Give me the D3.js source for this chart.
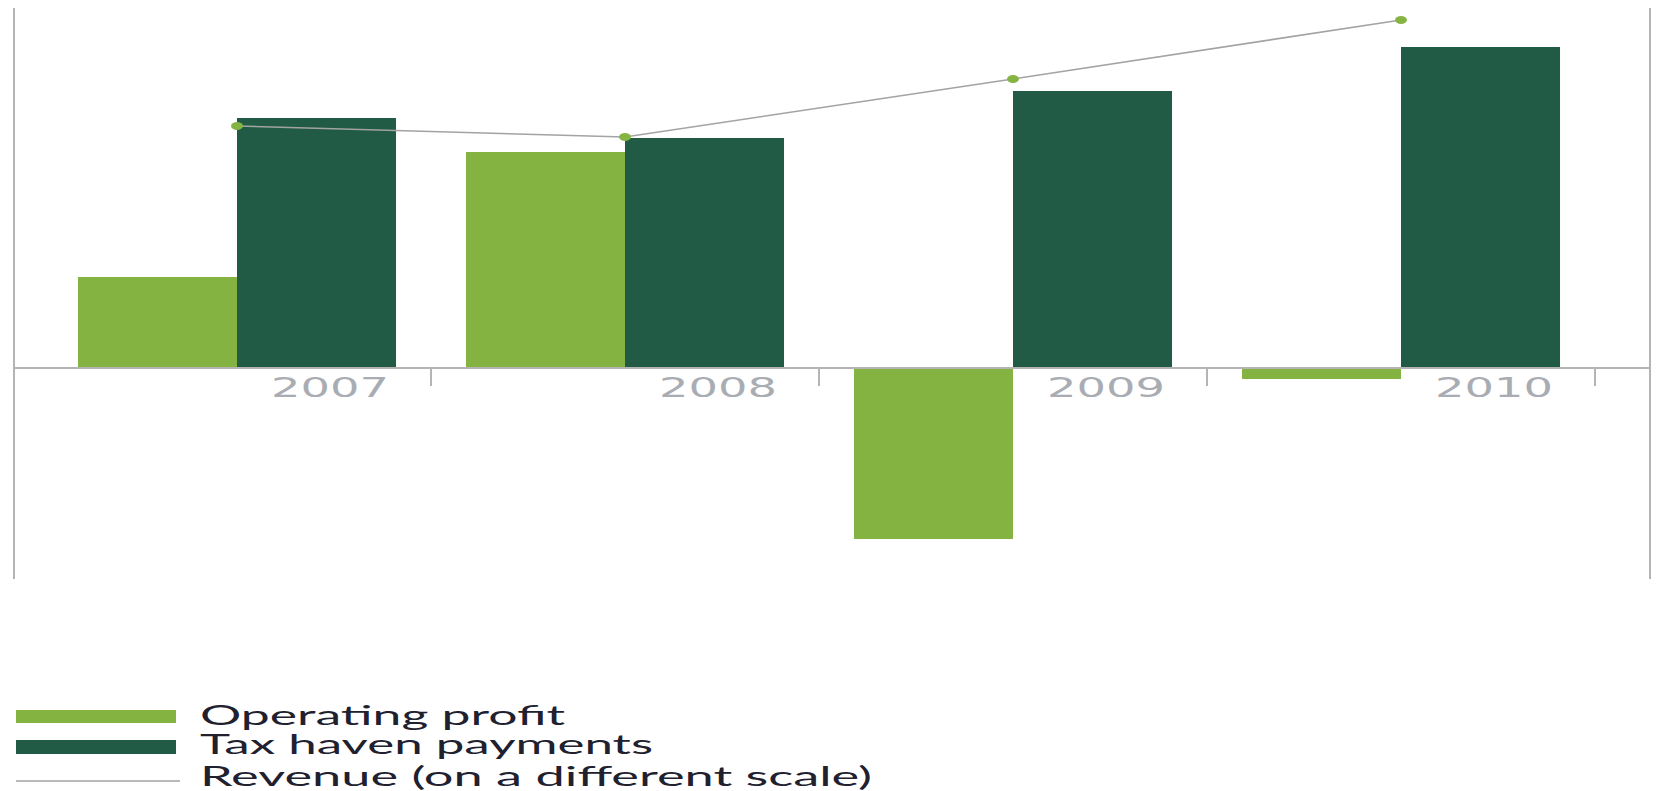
<!DOCTYPE html>
<html>
<head>
<meta charset="utf-8">
<script src="https://cdn.jsdelivr.net/npm/d3@7"></script>
<style>
  html, body { margin: 0; padding: 0; background: #fff; }
  svg { display: block; }
</style>
</head>
<body>
<div id="chart"></div>
<script>
    "use strict";

    // Categories and series (units arbitrary, revenue on its own scale).
    var years = ["2007", "2008", "2009", "2010"];
    var series = ["Operating profit", "Tax haven payments"];
    var operatingProfit = [9.1, 21.6, -17.1, -1.1];
    var taxHavenPayments = [25.0, 23.0, 27.7, 32.1];
    var revenue = [2.42, 2.31, 2.89, 3.48];
    var legendLabels = ["Operating profit", "Tax haven payments", "Revenue (on a different scale)"];

    var width = 1656, height = 791;
    var colors = { "Operating profit": "#85b342", "Tax haven payments": "#215a45" };
    var axisColor = "#b4b4b4";

    var svg = d3.select("#chart").append("svg")
        .attr("width", width)
        .attr("height", height);

    // Scales.
    var x = d3.scaleBand().domain(years).range([43, 1595]).padding(0);
    var x1 = d3.scaleBand().domain(series).range([0, x.bandwidth()]).paddingInner(0).paddingOuter(0.22);
    var y = d3.scaleLinear().domain([-21.1, 36.0]).range([579, 8]);
    var yRev = d3.scaleLinear().domain([0, 3.6]).range([y(0), 8]);

    var rows = years.map(function (yr, i) {
        return { year: yr, values: [
            { key: series[0], value: operatingProfit[i] },
            { key: series[1], value: taxHavenPayments[i] }
        ] };
    });

    // Side frame lines.
    svg.append("line")
        .attr("x1", 14).attr("x2", 14)
        .attr("y1", y.range()[1]).attr("y2", y.range()[0])
        .attr("stroke", axisColor).attr("stroke-width", 2);
    svg.append("line")
        .attr("x1", 1650).attr("x2", 1650)
        .attr("y1", y.range()[1]).attr("y2", y.range()[0])
        .attr("stroke", axisColor).attr("stroke-width", 2);

    // Bars.
    var groups = svg.append("g").attr("class", "bars")
        .selectAll("g")
        .data(rows)
        .enter().append("g")
        .attr("transform", function (d) { return "translate(" + x(d.year) + ",0)"; });

    groups.selectAll("rect")
        .data(function (d) { return d.values; })
        .enter().append("rect")
        .attr("x", function (d) { return x1(d.key); })
        .attr("width", x1.bandwidth())
        .attr("y", function (d) { return y(Math.max(0, d.value)); })
        .attr("height", function (d) { return Math.abs(y(d.value) - y(0)); })
        .attr("fill", function (d) { return colors[d.key]; });

    // Zero line with ticks between years.
    svg.append("line")
        .attr("x1", 14).attr("x2", 1650)
        .attr("y1", y(0)).attr("y2", y(0))
        .attr("stroke", axisColor).attr("stroke-width", 2);

    svg.append("g").selectAll("line")
        .data(years)
        .enter().append("line")
        .attr("x1", function (d) { return x(d) + x.bandwidth(); })
        .attr("x2", function (d) { return x(d) + x.bandwidth(); })
        .attr("y1", y(0)).attr("y2", y(0) + 18)
        .attr("stroke", axisColor).attr("stroke-width", 2);

    // Year labels.
    svg.append("g").selectAll("text")
        .data(years)
        .enter().append("text")
        .attr("x", function (d) { return x(d) + x.bandwidth() * 0.74; })
        .attr("y", y(0) + 29)
        .attr("text-anchor", "middle")
        .attr("font-family", "DejaVu Sans, sans-serif")
        .attr("font-size", 27)
        .attr("textLength", 118)
        .attr("lengthAdjust", "spacingAndGlyphs")
        .attr("fill", "#a9adb3")
        .text(function (d) { return d; });

    // Revenue line.
    var line = d3.line()
        .x(function (d, i) { return x(years[i]) + x.bandwidth() / 2; })
        .y(function (d) { return yRev(d); });

    svg.append("path")
        .datum(revenue)
        .attr("d", line)
        .attr("fill", "none")
        .attr("stroke", "#a3a3a3")
        .attr("stroke-width", 1.6);

    svg.append("g").selectAll("ellipse")
        .data(revenue)
        .enter().append("ellipse")
        .attr("cx", function (d, i) { return x(years[i]) + x.bandwidth() / 2; })
        .attr("cy", function (d) { return yRev(d); })
        .attr("rx", 6).attr("ry", 4)
        .attr("fill", "#86b443");

    // Legend.
    var legend = svg.append("g").attr("class", "legend");
    var legendY = [716, 747, 781];
    var legendBase = [725, 754, 786];
    var legendLen = [365, 453, 672];

    legend.append("rect").attr("x", 16).attr("y", legendY[0] - 6).attr("width", 160).attr("height", 13)
        .attr("fill", colors[series[0]]);
    legend.append("rect").attr("x", 16).attr("y", legendY[1] - 7).attr("width", 160).attr("height", 14)
        .attr("fill", colors[series[1]]);
    legend.append("line").attr("x1", 16).attr("x2", 180).attr("y1", legendY[2]).attr("y2", legendY[2])
        .attr("stroke", "#a3a3a3").attr("stroke-width", 1.6);

    legend.selectAll("text")
        .data(legendLabels)
        .enter().append("text")
        .attr("x", 200)
        .attr("y", function (d, i) { return legendBase[i]; })
        .attr("font-family", "Lato, sans-serif")
        .attr("font-size", 26)
        .attr("textLength", function (d, i) { return legendLen[i]; })
        .attr("lengthAdjust", "spacingAndGlyphs")
        .attr("fill", "#20202e")
        .text(function (d) { return d; });
</script>
</body>
</html>
